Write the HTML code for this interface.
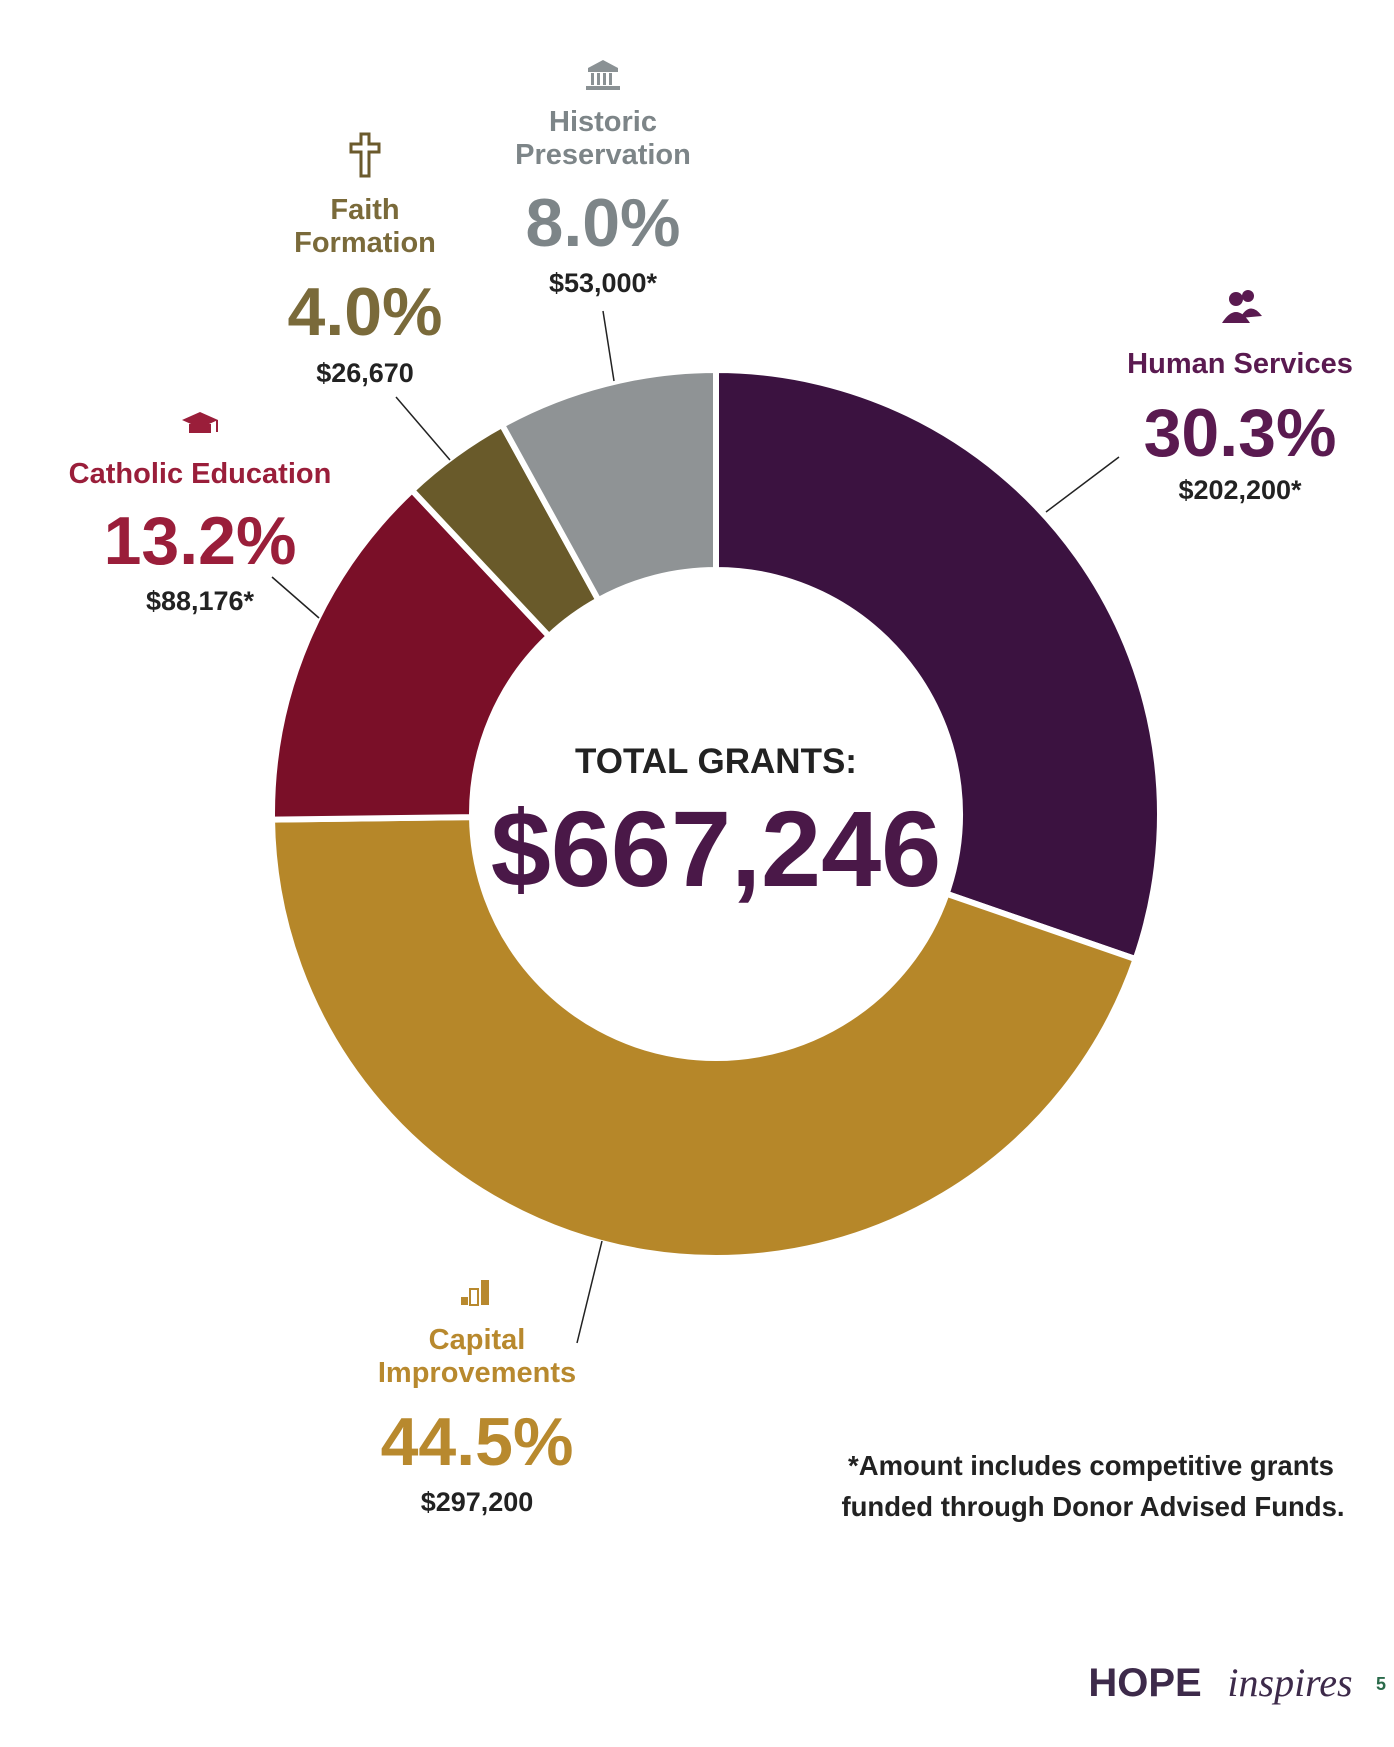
<!DOCTYPE html>
<html><head><meta charset="utf-8"><style>
body{margin:0;background:#fff}
svg text{font-family:"Liberation Sans",sans-serif;font-weight:bold;text-anchor:middle}
</style></head><body>
<svg id="s" width="1394" height="1742" viewBox="0 0 1394 1742" xmlns="http://www.w3.org/2000/svg">
<g id="donut"></g>
<g stroke="#222" stroke-width="1.5">
<line x1="603" y1="311" x2="614" y2="381"/>
<line x1="396" y1="397" x2="450" y2="460"/>
<line x1="272" y1="577" x2="319" y2="618"/>
<line x1="1119" y1="457" x2="1046" y2="512"/>
<line x1="602" y1="1241" x2="577" y2="1343"/>
</g>
<g fill="#8a9194"><rect x="588" y="68" width="30" height="4"/><polygon points="603,60 588,68 618,68"/><rect x="591" y="73" width="3" height="12"/><rect x="597" y="73" width="3" height="12"/><rect x="603" y="73" width="3" height="12"/><rect x="609" y="73" width="3" height="12"/><rect x="586" y="86" width="34" height="4"/></g>
<g fill="none" stroke="#6b5a2c" stroke-width="3"><path d="M361 134h8v10h10v8h-10v24h-8v-24h-10v-8h10z"/></g>
<g fill="#9a1e3a"><polygon points="200,412 218,420 200,428 182,420"/><rect x="189" y="424" width="22" height="9"/><rect x="216" y="420" width="2" height="12"/></g>
<g fill="#5a1a50"><circle cx="1236" cy="299" r="7"/><circle cx="1248" cy="296" r="6"/><path d="M1222 323 q14 -22 28 0z"/><path d="M1240 318 q10 -18 22 -2 z"/></g>
<g fill="#b8892e"><rect x="461" y="1297" width="7" height="8"/><rect x="470" y="1289" width="8" height="16" fill="none" stroke="#b8892e" stroke-width="2"/><rect x="481" y="1280" width="8" height="25"/></g>
<text x="603" y="131" font-size="29" fill="#7d8588">Historic</text>
<text x="603" y="164" font-size="29" fill="#7d8588">Preservation</text>
<text x="603" y="246" font-size="68" fill="#7d8588">8.0%</text>
<text x="603" y="292" font-size="27" fill="#222">$53,000*</text>
<text x="365" y="219" font-size="29" fill="#7a6a3a">Faith</text>
<text x="365" y="252" font-size="29" fill="#7a6a3a">Formation</text>
<text x="365" y="335" font-size="68" fill="#7a6a3a">4.0%</text>
<text x="365" y="382" font-size="27" fill="#222">$26,670</text>
<text x="200" y="483" font-size="29" fill="#9a1e3a">Catholic Education</text>
<text x="200" y="564" font-size="68" fill="#9a1e3a">13.2%</text>
<text x="200" y="610" font-size="27" fill="#222">$88,176*</text>
<text x="1240" y="373" font-size="29" fill="#5a1a50">Human Services</text>
<text x="1240" y="456" font-size="68" fill="#5a1a50">30.3%</text>
<text x="1240" y="499" font-size="27" fill="#222">$202,200*</text>
<text x="477" y="1349" font-size="29" fill="#b8892e">Capital</text>
<text x="477" y="1382" font-size="29" fill="#b8892e">Improvements</text>
<text x="477" y="1465" font-size="68" fill="#b8892e">44.5%</text>
<text x="477" y="1511" font-size="27" fill="#222">$297,200</text>
<text x="716" y="773" font-size="35" fill="#222">TOTAL GRANTS:</text>
<text x="716" y="886" font-size="108" fill="#4a1848">$667,246</text>
<text x="1091" y="1475" font-size="27.5" fill="#222">*Amount includes competitive grants</text>
<text x="1093" y="1516" font-size="27.5" fill="#222">funded through Donor Advised Funds.</text>
<text x="1145" y="1696" font-size="40" fill="#3d2a4a">HOPE</text>
<text x="1290" y="1696" font-size="40" fill="#3d2a4a" font-style="italic" style="font-family:'Liberation Serif',serif;font-weight:normal">inspires</text>
<text x="1381" y="1690" font-size="18" fill="#2a6a4a">5</text>
</svg>
<script>
var cx=716,cy=814,R=444,r=244;
var segs=[[30.3,"#3b1240"],[44.5,"#b68729"],[13.2,"#7a0f28"],[4.0,"#695a2a"],[8.0,"#8f9395"]];
var a=0,g=document.getElementById("donut"),h="";
function p(ang,rad){var t=(ang-90)*Math.PI/180;return [cx+rad*Math.cos(t),cy+rad*Math.sin(t)];}
segs.forEach(function(s){var a2=a+s[0]*3.6;var l=(a2-a)>180?1:0;
var p1=p(a,R),p2=p(a2,R),p3=p(a2,r),p4=p(a,r);
h+='<path d="M'+p1+' A'+R+' '+R+' 0 '+l+' 1 '+p2+' L'+p3+' A'+r+' '+r+' 0 '+l+' 0 '+p4+'Z" fill="'+s[1]+'" stroke="#fff" stroke-width="6"/>';a=a2;});
g.innerHTML=h;
</script>
</body></html>
